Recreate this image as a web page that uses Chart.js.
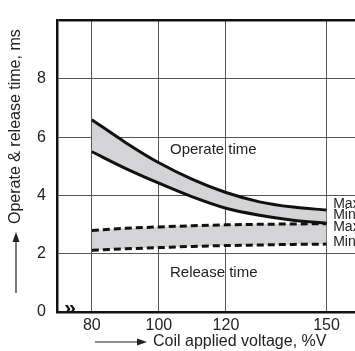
<!DOCTYPE html>
<html>
<head>
<meta charset="utf-8">
<script src="https://cdn.jsdelivr.net/npm/chart.js@4/dist/chart.umd.min.js"></script>
<style>
html,body{margin:0;padding:0;background:#fff;}
#wrap{width:355px;height:351px;position:relative;}
</style>
</head>
<body>
<div id="wrap"><canvas id="c"></canvas></div>
<script>
// ---- data ----
const voltage = [80, 90, 100, 110, 120, 130, 140, 150];
const operateMax = [6.6, 5.82, 5.12, 4.55, 4.1, 3.78, 3.6, 3.5];
const operateMin = [5.5, 4.93, 4.42, 3.95, 3.56, 3.32, 3.15, 3.05];
const releaseMax = [2.8, 2.87, 2.92, 2.96, 2.99, 3.01, 3.02, 3.03];
const releaseMin = [2.12, 2.17, 2.21, 2.25, 2.28, 2.3, 2.32, 2.33];
const xTicks = [80, 100, 120, 150];
const yTicks = [0, 2, 4, 6, 8, 10];
const xTitle = 'Coil applied voltage, %V';
const yTitle = 'Operate & release time, ms';
const bandLabels = ['Operate time', 'Release time'];
const bandLabelAt = [[103.3, 5.55], [103.3, 1.35]];
const sideLabels = ['Max', 'Min', 'Max', 'Min'];
const sideLabelY = [3.69, 3.31, 2.92, 2.41];
const sideLabelX = 152;

const FONT = '"Liberation Sans", Arial, Helvetica, sans-serif';
const pts = a => a.map((v, i) => ({x: voltage[i], y: v}));

const decor = {
  id: 'decor',
  afterDatasetsDraw(chart) {
    const {ctx, scales: {x, y}, chartArea: ca} = chart;
    ctx.save();
    ctx.fillStyle = '#222';
    ctx.textBaseline = 'middle';
    ctx.textAlign = 'left';
    ctx.font = '15px ' + FONT;
    bandLabels.forEach((t, i) => {
      ctx.fillText(t, x.getPixelForValue(bandLabelAt[i][0]), y.getPixelForValue(bandLabelAt[i][1]));
    });
    ctx.font = '14px ' + FONT;
    sideLabels.forEach((t, i) => {
      ctx.fillText(t, x.getPixelForValue(sideLabelX), y.getPixelForValue(sideLabelY[i]));
    });
    // axis break mark
    ctx.font = 'bold 21px ' + FONT;
    ctx.fillStyle = '#111';
    ctx.textAlign = 'center';
    ctx.fillText('\u00BB', ca.left + 13, ca.bottom - 4);

    // x title with arrow
    ctx.font = '16px ' + FONT;
    ctx.fillStyle = '#222';
    ctx.textAlign = 'left';
    const xty = ca.bottom + 30;
    ctx.fillText(xTitle, 153, xty);
    ctx.strokeStyle = '#222';
    ctx.lineWidth = 1.2;
    ctx.beginPath(); ctx.moveTo(95, xty); ctx.lineTo(140, xty); ctx.stroke();
    ctx.beginPath(); ctx.moveTo(147, xty); ctx.lineTo(137, xty - 3.5); ctx.lineTo(137, xty + 3.5); ctx.closePath(); ctx.fill();

    // y title with arrow
    ctx.save();
    ctx.translate(16, 0);
    ctx.rotate(-Math.PI / 2);
    ctx.font = '16px ' + FONT;
    ctx.textAlign = 'left';
    ctx.fillText(yTitle, -224, 0);
    ctx.beginPath(); ctx.moveTo(-293, 0); ctx.lineTo(-239, 0); ctx.stroke();
    ctx.beginPath(); ctx.moveTo(-232, 0); ctx.lineTo(-242, -3.5); ctx.lineTo(-242, 3.5); ctx.closePath(); ctx.fill();
    ctx.restore();
    ctx.restore();
  }
};

new Chart(document.getElementById('c'), {
  type: 'line',
  data: {
    datasets: [
      {data: pts(operateMax), borderColor: '#111', borderWidth: 3, fill: '+1', backgroundColor: '#d4d4d6'},
      {data: pts(operateMin), borderColor: '#111', borderWidth: 3, fill: false},
      {data: pts(releaseMax), borderColor: '#111', borderWidth: 3, borderDash: [7, 4], fill: '+1', backgroundColor: '#d4d4d6'},
      {data: pts(releaseMin), borderColor: '#111', borderWidth: 3, borderDash: [7, 4], fill: false}
    ]
  },
  options: {
    responsive: true,
    maintainAspectRatio: false,
    animation: false,
    events: [],
    layout: {padding: {top: 10, right: 0, left: 0, bottom: 0}},
    elements: {point: {radius: 0}, line: {cubicInterpolationMode: 'monotone', borderCapStyle: 'butt'}},
    plugins: {legend: {display: false}, tooltip: {enabled: false}, filler: {drawTime: 'beforeDatasetsDraw'}},
    scales: {
      x: {
        type: 'linear', min: 69.6, max: 158.5,
        afterBuildTicks: s => { s.ticks = xTicks.map(v => ({value: v})); },
        afterFit: s => { s.height = 39; },
        grid: {color: '#555', lineWidth: 1, drawTicks: false},
        border: {display: true, color: '#111', width: 2.5},
        ticks: {padding: 4, color: '#222', font: {size: 16, family: FONT}, maxRotation: 0}
      },
      y: {
        type: 'linear', min: 0, max: 10,
        afterBuildTicks: s => { s.ticks = yTicks.map(v => ({value: v})); },
        afterFit: s => { s.width = 57; },
        grid: {color: c => c.tick && c.tick.value === 10 ? '#111' : '#555',
               lineWidth: c => c.tick && c.tick.value === 10 ? 2.5 : 1, drawTicks: false},
        border: {display: true, color: '#111', width: 2.5},
        ticks: {padding: 11, color: '#222', font: {size: 16, family: FONT},
                callback: v => v === 10 ? '' : String(v)}
      }
    }
  },
  plugins: [decor]
});
</script>
</body>
</html>
